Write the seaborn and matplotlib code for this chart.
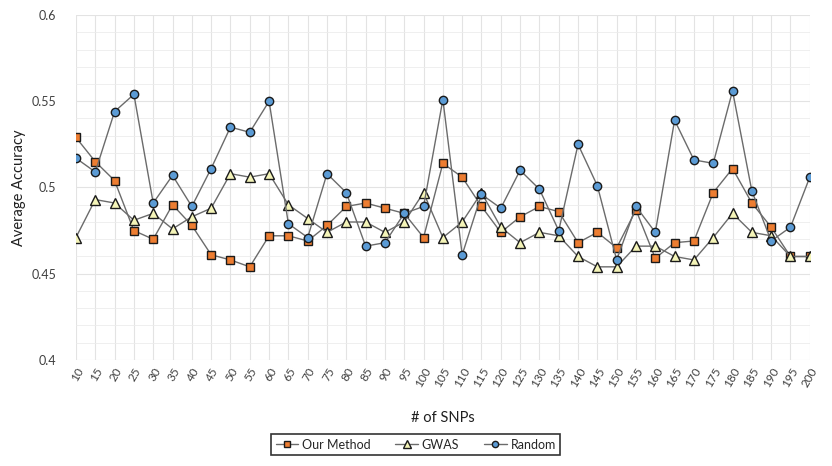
import numpy as np
import pandas as pd
import matplotlib
matplotlib.use("Agg")
import matplotlib.pyplot as plt
import matplotlib.ticker as mticker
import seaborn as sns

# ── Data ──────────────────────────────────────────────────────────────────────
snps = list(range(10, 205, 5))

our_method = [0.529, 0.515, 0.504, 0.475, 0.470, 0.490, 0.478, 0.461, 0.458, 0.454,
              0.472, 0.472, 0.469, 0.478, 0.489, 0.491, 0.488, 0.485, 0.471, 0.514,
              0.506, 0.489, 0.474, 0.483, 0.489, 0.486, 0.468, 0.474, 0.465, 0.487,
              0.459, 0.468, 0.469, 0.497, 0.511, 0.491, 0.477, 0.460, 0.460]

gwas = [0.471, 0.493, 0.491, 0.481, 0.485, 0.476, 0.483, 0.488, 0.508, 0.506,
        0.508, 0.490, 0.482, 0.474, 0.480, 0.480, 0.474, 0.480, 0.497, 0.471,
        0.480, 0.497, 0.477, 0.468, 0.474, 0.472, 0.460, 0.454, 0.454, 0.466,
        0.466, 0.460, 0.458, 0.471, 0.485, 0.474, 0.472, 0.460, 0.460]

random_sel = [0.517, 0.509, 0.544, 0.554, 0.491, 0.507, 0.489, 0.511, 0.535, 0.532,
              0.550, 0.479, 0.471, 0.508, 0.497, 0.466, 0.468, 0.485, 0.489, 0.551,
              0.461, 0.496, 0.488, 0.510, 0.499, 0.475, 0.525, 0.501, 0.458, 0.489,
              0.474, 0.539, 0.516, 0.514, 0.556, 0.498, 0.469, 0.477, 0.506]

df = pd.DataFrame({"snps": snps, "Our Method": our_method,
                   "GWAS": gwas, "Random": random_sel})

# ── Style ─────────────────────────────────────────────────────────────────────
sns.set_style("white")
plt.rcParams["font.family"] = ["Lato", "DejaVu Sans"]

LINE = "#6b6b6b"
series = [
    ("Our Method", "s", "#ED7D31", 6.0),
    ("GWAS", "^", "#F4F4B8", 7.0),
    ("Random", "o", "#5B9BD5", 6.0),
]

fig = plt.figure(figsize=(8.32, 4.66), dpi=100)
ax = fig.add_axes([0.0913, 0.2275, 0.882, 0.7403])

for name, marker, fill, ms in series:
    sns.lineplot(data=df, x="snps", y=name, ax=ax, color=LINE, linewidth=1.0,
                 marker=marker, markersize=ms, markerfacecolor=fill,
                 markeredgecolor="#1a1a1a", markeredgewidth=1.0, label=name)

# ── Axes ──────────────────────────────────────────────────────────────────────
ax.set_xlim(10, 200)
ax.set_ylim(0.4, 0.6)
ax.set_xticks(snps)
ax.set_xticklabels([str(s) for s in snps], rotation=60, ha="right",
                   rotation_mode="anchor", fontsize=8.5, color="#404040")
ax.yaxis.set_major_locator(mticker.MultipleLocator(0.05))
ax.yaxis.set_minor_locator(mticker.MultipleLocator(0.01))
ax.yaxis.set_major_formatter(mticker.FuncFormatter(lambda v, p: f"{v:g}"))
ax.tick_params(axis="y", labelsize=9, colors="#404040", length=0, pad=14)
ax.tick_params(axis="x", length=0, pad=4)

ax.grid(which="major", axis="both", color="#e3e3e3", linewidth=0.8)
ax.grid(which="minor", axis="y", color="#ececec", linewidth=0.6)
ax.set_axisbelow(True)
for s in ax.spines.values():
    s.set_visible(False)

ax.set_xlabel("# of SNPs", fontsize=10.5, color="#202020", labelpad=16)
ax.set_ylabel("Average Accuracy", fontsize=10.5, color="#202020", labelpad=4)

leg = ax.legend(loc="center", bbox_to_anchor=(0.463, -0.246), ncol=3, fontsize=9,
                frameon=True, fancybox=False, handlelength=1.8, columnspacing=2.0,
                handletextpad=0.3, borderpad=0.35, markerscale=0.75)
leg.get_frame().set_edgecolor("#000000")
leg.get_frame().set_linewidth(1.2)

fig.savefig("out.png", dpi=100)
